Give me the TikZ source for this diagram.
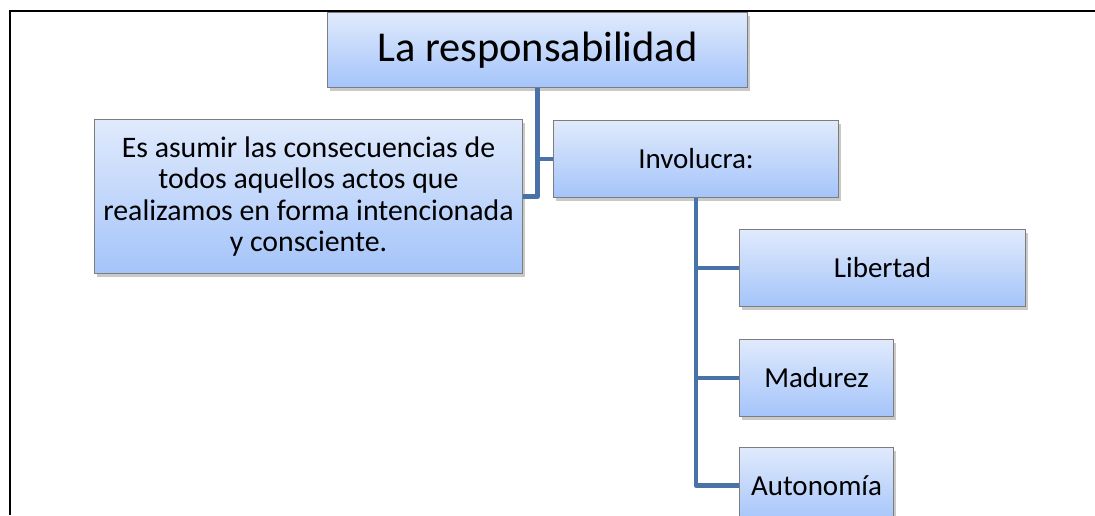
\documentclass[tikz,border=0pt]{standalone}
\usepackage{fontspec}
\setmainfont{Carlito}
\usetikzlibrary{shadows}
\definecolor{boxtop}{RGB}{224,234,252}
\definecolor{boxbot}{RGB}{164,196,250}
\definecolor{boxline}{RGB}{125,125,125}
\definecolor{conn}{RGB}{72,114,168}
\tikzset{
  px/.style={x=1pt,y=-1pt},
  box/.style={draw=boxline, line width=1pt, top color=boxtop, bottom color=boxbot,
    anchor=north west, inner sep=0pt, align=flush center,
    drop shadow={shadow xshift=2pt, shadow yshift=-3pt, opacity=0.35, fill=black!60}},
  smalltext/.style={font=\fontsize{29}{34}\selectfont},
  link/.style={draw=conn, line width=4.5pt, line join=round}
}
\begin{document}
\begin{tikzpicture}[px]
\useasboundingbox (0,0) rectangle (1095,515);
\fill[white] (0,0) rectangle (1095,515);
% frame
\draw[line width=2pt, black] (10,515) -- (10,11) -- (1095,11);
% boxes
\node[box, minimum width=420pt, minimum height=75pt, font=\fontsize{42.5}{48}\selectfont] (title) at (327,12) {La responsabilidad};
\node[box, minimum width=428pt, minimum height=154pt, text width=420pt, font=\fontsize{29.8}{31.5}\selectfont] (desc) at (94,119) {Es asumir las consecuencias de\\todos aquellos actos que\\realizamos en forma intencionada\\y consciente.};
\node[box, smalltext, minimum width=285pt, minimum height=77pt] (invol) at (553,120) {Involucra:};
\node[box, smalltext, minimum width=286pt, minimum height=77pt] (lib) at (739,229) {Libertad};
\node[box, smalltext, minimum width=154pt, minimum height=77pt] (mad) at (739,339) {Madurez};
\node[box, smalltext, minimum width=154pt, minimum height=76pt] (aut) at (739,447) {Autonom\'ia};
% connectors
\draw[link] (title.south) |- (desc.east);
\draw[link] (title.south |- invol.west) -- (invol.west);
\draw[link] (invol.south) |- (lib.west);
\draw[link] (invol.south) |- (mad.west);
\draw[link] (invol.south) |- (aut.west);
\end{tikzpicture}
\end{document}
